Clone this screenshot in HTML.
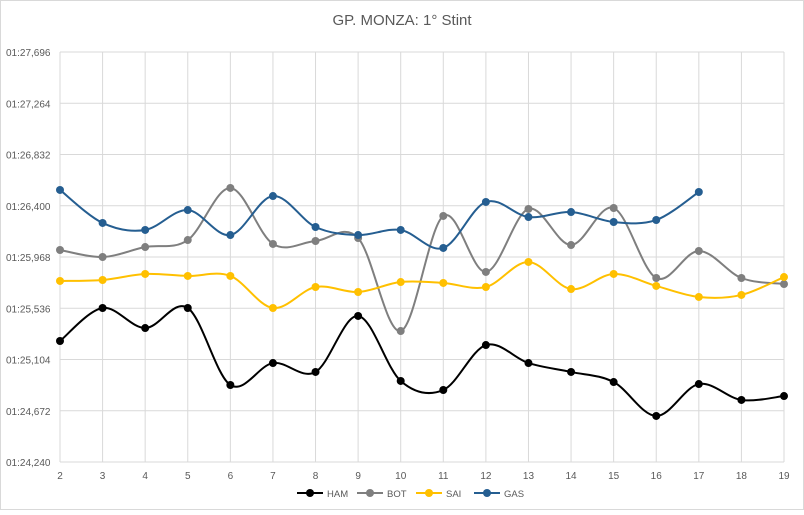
<!DOCTYPE html>
<html><head><meta charset="utf-8"><style>
body{margin:0;background:#fff;font-family:"Liberation Sans",sans-serif}
svg text{font-family:"Liberation Sans",sans-serif;fill:#595959}
</style></head><body>
<svg id="c" width="804" height="510">
<rect x="0.5" y="0.5" width="803" height="509" fill="#fff" stroke="#d9d9d9"/>
<text x="402" y="25" text-anchor="middle" font-size="15">GP. MONZA: 1° Stint</text>
<g id="grid"></g><g id="series"></g><g id="legend"></g>
</svg>
<script>
const laps=[2,3,4,5,6,7,8,9,10,11,12,13,14,15,16,17,18,19];
const yTicks=[84.240,84.672,85.104,85.536,85.968,86.400,86.832,87.264,87.696];
const yTickLabels=["01:24,240","01:24,672","01:25,104","01:25,536","01:25,968","01:26,400","01:26,832","01:27,264","01:27,696"];
const ham=[85.260,85.538,85.369,85.538,84.889,85.074,84.999,85.471,84.923,84.847,85.226,85.074,84.999,84.914,84.628,84.897,84.763,84.796];
const bot=[86.027,85.968,86.052,86.111,86.550,86.078,86.103,86.128,85.344,86.314,85.842,86.373,86.069,86.381,85.791,86.019,85.791,85.740];
const sai=[85.766,85.774,85.825,85.808,85.808,85.538,85.715,85.673,85.757,85.749,85.715,85.926,85.698,85.825,85.724,85.631,85.648,85.799];
const gas=[86.533,86.255,86.196,86.364,86.153,86.482,86.221,86.153,86.196,86.044,86.432,86.305,86.347,86.263,86.280,86.516];
const seriesNames=["HAM","BOT","SAI","GAS"];
const seriesColors=["#000000","#7f7f7f","#ffc000","#255e91"];
const seriesData=[ham,bot,sai,gas];
const NS="http://www.w3.org/2000/svg";
const X0=60,X1=784,Y0=462,Y1=52,ymin=84.240,ymax=87.696;
const xs=i=>X0+(X1-X0)*i/(laps.length-1);
const ys=v=>Y0-(v-ymin)/(ymax-ymin)*(Y0-Y1);
function mk(t,a,p){const e=document.createElementNS(NS,t);for(const k in a)e.setAttribute(k,a[k]);p.appendChild(e);return e;}
const grid=document.getElementById('grid');
yTicks.forEach((v,i)=>{
 const l=mk('line',{x1:X0,x2:X1,y1:ys(v),y2:ys(v),stroke:'#d9d9d9'},grid);
 
 
 const t=mk('text',{x:6,y:ys(v)+4,'font-size':10},grid);t.textContent=yTickLabels[i];
 
 
});
laps.forEach((c,i)=>{
 const l=mk('line',{x1:xs(i),x2:xs(i),y1:Y1,y2:Y0,stroke:'#d9d9d9'},grid);
 
 
 const t=mk('text',{x:xs(i),y:Y0+17,'font-size':10,'text-anchor':'middle'},grid);t.textContent=c;
 
 
});
function path(pts){let d=`M${pts[0][0]},${pts[0][1]}`;const k=1/6;
 for(let i=0;i<pts.length-1;i++){const p0=pts[i-1]||pts[i],p1=pts[i],p2=pts[i+1],p3=pts[i+2]||p2;
  d+=`C${p1[0]+(p2[0]-p0[0])*k},${p1[1]+(p2[1]-p0[1])*k} ${p2[0]-(p3[0]-p1[0])*k},${p2[1]-(p3[1]-p1[1])*k} ${p2[0]},${p2[1]}`;}
 return d;}
const sg=document.getElementById('series');
seriesData.forEach((arr,s)=>{
 const g=mk('g',{},sg);
 
 
 const pts=arr.map((v,i)=>[xs(i),ys(v)]);
 mk('path',{d:path(pts),fill:'none',stroke:seriesColors[s],'stroke-width':2},g);
 pts.forEach(p=>{const c=mk('circle',{cx:p[0],cy:p[1],r:4,fill:seriesColors[s]},g);
  
  });
});
const lg=document.getElementById('legend');
const lx=[297,357,416,474];
seriesNames.forEach((n,i)=>{
 const g=mk('g',{},lg);
 
 
 mk('line',{x1:lx[i],x2:lx[i]+26,y1:493,y2:493,stroke:seriesColors[i],'stroke-width':2},g);
 mk('circle',{cx:lx[i]+13,cy:493,r:4,fill:seriesColors[i]},g);
 const t=mk('text',{x:lx[i]+30,y:497,'font-size':9.5},g);t.textContent=n;
});
</script>
</body></html>
